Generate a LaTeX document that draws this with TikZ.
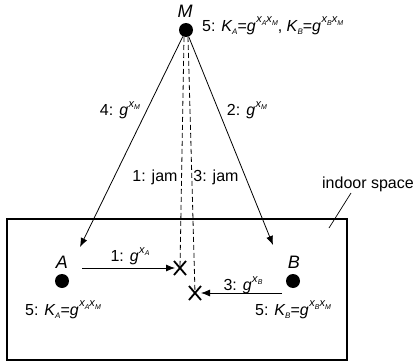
\documentclass[tikz,border=0pt]{standalone}
\usepackage{fontspec}
\setmainfont{Liberation Sans}
\usetikzlibrary{arrows.meta,calc}
\newcommand{\vx}[1]{\textit{x}\kern-0.3pt\raisebox{-0.35ex}{\fontsize{7}{7}\selectfont\textit{#1}}}
\newcommand{\gp}[1]{\textit{g}\kern0.5pt\raisebox{1.0ex}{\fontsize{11}{11}\selectfont #1}}
\newcommand{\Kk}[1]{\textit{K}\kern-0.5pt\raisebox{-0.4ex}{\fontsize{8}{8}\selectfont\textit{#1}}}
\tikzset{
  lbl/.style={font=\fontsize{16}{16}\selectfont, inner sep=0pt},
  big/.style={font=\fontsize{18}{18}\selectfont\itshape, inner sep=0pt},
  dot/.style={circle, fill=black, minimum size=14pt, inner sep=0pt},
  conn/.style={line width=0.8pt, -{Latex[length=9pt,width=7pt]}},
  jam/.style={line width=0.8pt, dashed, dash pattern=on 5pt off 3pt},
  xmark/.style={line width=1.8pt}
}
\begin{document}
\begin{tikzpicture}[x=1pt,y=-1pt]
\useasboundingbox (0,0) rectangle (418,364);
% room
\draw[line width=1.8pt] (7,219) rectangle (347,360);
\node[lbl] (room) at (368,184) {indoor space};
\coordinate (roomin) at (329,228);
\draw[line width=0.7pt] (351,193) -- (roomin);
% nodes
\node[dot] (M) at (186,30) {};
\node[big] (Ml) at (185,11) {M};
\node[dot] (A) at (62,281) {};
\node[big] (Al) at (62,262) {A};
\node[dot] (B) at (293,281) {};
\node[big] (Bl) at (294,262) {B};
% jam points
\coordinate (X1) at (180,268);
\coordinate (X2) at (195,293);
\foreach \p in {X1,X2}{
  \draw[xmark] ($(\p)+(-6,-7)$) -- ($(\p)+(6,7)$);
  \draw[xmark] ($(\p)+(6,-7)$) -- ($(\p)+(-6,7)$);
}
% M to A and B
\coordinate (Aend) at (80,247);
\coordinate (Bend) at (273,245);
\draw[conn] (M) -- (Aend);
\draw[conn] (M) -- (Bend);
% dashed jamming
\coordinate (Mj1) at (184,37);
\coordinate (Mj2) at (188,37);
\draw[jam] (Mj1) -- (X1);
\draw[jam] (Mj2) -- (X2);
% A, B to jam points
\coordinate (As) at (82,268);
\coordinate (X1e) at (175,268);
\coordinate (Bs) at (282,293);
\coordinate (X2e) at (201,293);
\draw[conn] (As) -- (X1e);
\draw[conn] (Bs) -- (X2e);
% labels
\node[lbl, anchor=west] (top) at (202,26) {5: \Kk{A}=\gp{\vx{A}\vx{M}}, \Kk{B}=\gp{\vx{B}\vx{M}}};
\node[lbl] (l4) at (120,110) {4: \gp{\vx{M}}};
\node[lbl] (l2) at (247,110) {2: \gp{\vx{M}}};
\node[lbl] (j1) at (155,177) {1: jam};
\node[lbl] (j3) at (216,177) {3: jam};
\node[lbl] (l1) at (130,256) {1: \gp{\vx{A}}};
\node[lbl] (l3) at (243,285) {3: \gp{\vx{B}}};
\node[lbl, anchor=west] (kA) at (25,310) {5: \Kk{A}=\gp{\vx{A}\vx{M}}};
\node[lbl, anchor=west] (kB) at (255,310) {5: \Kk{B}=\gp{\vx{B}\vx{M}}};
\end{tikzpicture}
\end{document}
